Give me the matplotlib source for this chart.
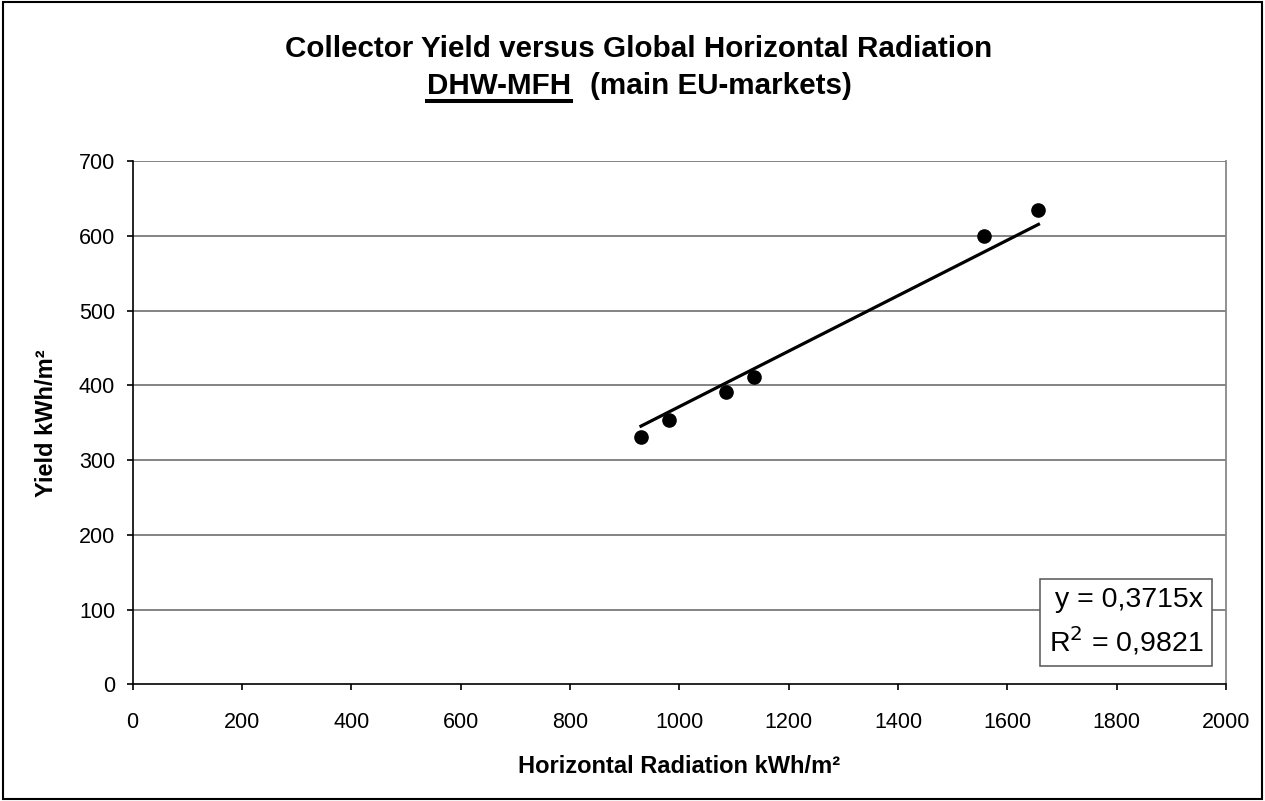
import matplotlib.pyplot as plt
from matplotlib.patches import Rectangle
from matplotlib.lines import Line2D

plt.rcParams['font.family'] = ['Liberation Sans', 'DejaVu Sans']

# data
radiation = [930, 981, 1085, 1136, 1557, 1657]   # kWh/m²
yield_vals = [331, 354, 391, 411, 600, 635]      # kWh/m²
slope = 0.3715
r2 = 0.9821

x_ticks = list(range(0, 2001, 200))
y_ticks = list(range(0, 701, 100))

W, H = 1265, 801
fig = plt.figure(figsize=(12.65, 8.01), dpi=100)
ax = fig.add_axes([132.5 / W, 1 - 684.2 / H, (1226 - 132.5) / W, (684.2 - 161.3) / H])

# gridlines
for yv in y_ticks[1:]:
    ax.axhline(yv, color='#7a7a7a', lw=1.3, zorder=1)

# trend line through origin over the data range
xs = [min(radiation), max(radiation)]
ax.plot(xs, [slope * v for v in xs], color='black', lw=2.3, zorder=2)
ax.plot(radiation, yield_vals, 'o', color='black', markersize=9.5, zorder=3)

ax.set_xlim(0, 2000)
ax.set_ylim(0, 700)
ax.set_xticks(x_ticks)
ax.set_yticks(y_ticks)
ax.tick_params(axis='both', direction='out', length=4.5, width=1.2, labelsize=15.5, color='black')
ax.tick_params(axis='x', pad=15.5)
ax.tick_params(axis='y', pad=8)
ax.spines['top'].set_visible(False)
ax.spines['right'].set_color('#888888')
ax.spines['right'].set_linewidth(1.3)
ax.spines['left'].set_linewidth(1.2)
ax.spines['bottom'].set_linewidth(1.2)

ax.set_xlabel('Horizontal Radiation kWh/m²', fontsize=17, fontweight='bold')
ax.set_ylabel('Yield kWh/m²', fontsize=17, fontweight='bold')
ax.xaxis.label.set_va('baseline')
ax.xaxis.set_label_coords(0.5, (684.2 - 773) / (684.2 - 161.3))
ax.yaxis.label.set_va('baseline')
ax.yaxis.set_label_coords((53 - 132.5) / (1226 - 132.5), 0.5)

eq = 'y = {}x\nR$^2$ = {}'.format(f'{slope}'.replace('.', ','), f'{r2}'.replace('.', ','))
ax.text(0.979, 0.052, eq, transform=ax.transAxes, ha='right', va='bottom',
        fontsize=20.5, linespacing=1.4,
        bbox=dict(boxstyle='square,pad=0.3', facecolor='white', edgecolor='#555555', lw=1.1),
        zorder=5)

# title
fig.text(639 / W, 1 - 57 / H, 'Collector Yield versus Global Horizontal Radiation',
         ha='center', va='baseline', fontsize=21.3, fontweight='bold')
t1 = fig.text(427 / W, 1 - 94 / H, 'DHW-MFH', ha='left', va='baseline',
              fontsize=21.3, fontweight='bold')
fig.text(852 / W, 1 - 94 / H, '(main EU-markets)', ha='right', va='baseline',
         fontsize=21.3, fontweight='bold')
fig.canvas.draw()
bb = t1.get_window_extent().transformed(fig.transFigure.inverted())
uy = 1 - 100.5 / H
fig.add_artist(Line2D([bb.x0, bb.x1], [uy, uy], transform=fig.transFigure,
                      color='black', lw=2.9))

# outer chart border
fig.add_artist(Rectangle((0.002, 0.003), 0.996, 0.994, transform=fig.transFigure,
                         fill=False, edgecolor='black', lw=1.5))

fig.savefig('out.png', dpi=100)
